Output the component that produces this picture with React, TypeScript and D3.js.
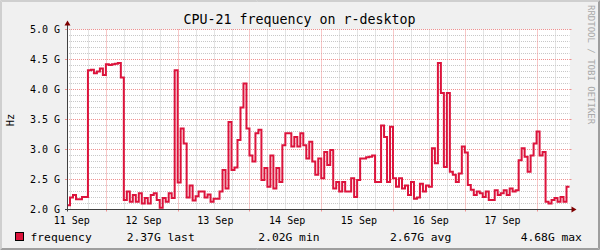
import React from "react";
import * as d3 from "d3";

const title = "CPU-21 frequency on r-desktop";
const yLabel = "Hz";
const watermark = "RRDTOOL / TOBI OETIKER";
// hourly frequency values (GHz), 11 Sep .. 17 Sep
const freq: number[] = [
  2.07, 2.2, 2.24, 2.17, 2.17, 2.21, 2.21, 4.32, 4.33, 4.27, 4.3, 4.35, 4.24, 4.42, 4.41, 4.42, 4.43, 4.44, 4.2, 2.16,
  2.3, 2.13, 2.24, 2.13, 2.27, 2.1, 2.19, 2.1, 2.24, 2.27, 2.16, 2.03, 2.19, 2.13, 2.27, 2.19, 4.32, 2.45, 3.35, 3.1,
  2.2, 2.4, 2.15, 2.22, 2.3, 2.3, 2.2, 2.25, 2.13, 2.18, 2.18, 2.3, 2.66, 2.35, 3.46, 2.66, 2.7, 3.16, 3.7, 4.1,
  3.35, 2.9, 2.8, 3.27, 3.33, 2.49, 2.69, 2.38, 2.9, 2.35, 2.69, 2.46, 3.07, 3.27, 3.27, 3.05, 3.21, 3.05, 3.27, 3.07,
  2.85, 3.13, 2.8, 2.58, 2.85, 2.52, 2.96, 2.74, 2.99, 2.35, 2.46, 2.3, 2.46, 2.3, 2.3, 2.52, 2.21, 2.49, 2.85, 2.85,
  2.87, 2.88, 2.9, 2.46, 2.46, 3.4, 3.21, 2.46, 3.38, 2.52, 2.38, 2.52, 2.35, 2.4, 2.24, 2.46, 2.18, 2.2, 2.43, 2.3,
  2.4, 2.38, 3.02, 2.77, 4.44, 3.94, 2.71, 3.94, 2.63, 2.58, 2.46, 2.6, 3.05, 2.95, 2.41, 2.33, 2.24, 2.3, 2.27, 2.21,
  2.3, 2.16, 2.16, 2.32, 2.24, 2.27, 2.32, 2.24, 2.35, 2.3, 2.32, 2.82, 3.02, 2.88, 2.63, 2.9, 3.1, 3.3, 2.9, 2.96,
  2.13, 2.1, 2.16, 2.19, 2.13, 2.21, 2.13, 2.38,
];
const dayLabels = ["11 Sep", "12 Sep", "13 Sep", "14 Sep", "15 Sep", "16 Sep", "17 Sep"];
const yTicks = [2.0, 2.5, 3.0, 3.5, 4.0, 4.5, 5.0];
const legendName = "frequency";
const legendStats = ["2.37G last", "2.02G min", "2.67G avg", "4.68G max"];

const W = 600, H = 250;
const L = 67, R = 569.5, T = 29.5, B = 209.5;
const FONT = "'DejaVu Sans Mono', monospace";
const LINE = "#DC143C";

export default function App() {
  const x = d3.scaleLinear().domain([0, 168]).range([L, R]);
  const y = d3.scaleLinear().domain([2, 5]).range([B, T]);
  const pts: [number, number][] = freq.map((v, i) => [i, v]);
  pts.push([168, freq[freq.length - 1]]);
  const line = d3
    .line<[number, number]>()
    .x((d) => x(d[0]))
    .y((d) => y(d[1]))
    .curve(d3.curveStepAfter);

  const minorY = d3.range(20, 51).map((v) => v / 10).filter((v) => Math.round(v * 10) % 5 !== 0);
  const minorX = d3.range(1, 168, 6).filter((h) => (h - 13) % 24 !== 0);
  const majorX = d3.range(13, 168, 24);
  const labelX = dayLabels.map((_, i) => 1.6 + 24 * i);
  const cx = (v: number) => Math.round(x(v)) + 0.5;
  const statX = [126.7, 258.3, 390, 520.7];

  return (
    <svg width={W} height={H} style={{ display: "block", position: "absolute", left: 0, top: 0 }}>
      <rect x={0} y={0} width={W} height={H} fill="#F0F0F0" />
      <path d={`M0.5,${H - 0.5}V0.5H${W - 0.5}`} stroke="#CFCFCF" fill="none" />
      <path d={`M1.5,${H - 1.5}V1.5H${W - 1.5}`} stroke="#CFCFCF" fill="none" />
      <path d={`M0.5,${H - 0.5}H${W - 0.5}V0.5`} stroke="#9E9E9E" fill="none" />
      <path d={`M1.5,${H - 1.5}H${W - 1.5}V1.5`} stroke="#9E9E9E" fill="none" />
      <rect x={L} y={T} width={R - L + 0.5} height={B - T} fill="#FFFFFF" />
      {minorY.map((v) => (
        <line key={"my" + v} x1={L} x2={R} y1={y(v)} y2={y(v)} stroke="#C8C8C8" strokeDasharray="1,1" />
      ))}
      {minorX.map((h) => (
        <line key={"mx" + h} x1={cx(h)} x2={cx(h)} y1={T} y2={B} stroke="#C8C8C8" strokeDasharray="1,1" />
      ))}
      {yTicks.map((v) => (
        <g key={"My" + v}>
          <line x1={L} x2={R} y1={y(v)} y2={y(v)} stroke="#F09090" strokeDasharray="1,1" />
          <line x1={L - 2} x2={L} y1={y(v)} y2={y(v)} stroke="#F09090" />
          <line x1={R} x2={R + 2} y1={y(v)} y2={y(v)} stroke="#F09090" />
        </g>
      ))}
      {majorX.map((h) => (
        <g key={"Mx" + h}>
          <line x1={cx(h)} x2={cx(h)} y1={T} y2={B} stroke="#F09090" strokeDasharray="1,1" />
          <line x1={cx(h)} x2={cx(h)} y1={B} y2={B + 2} stroke="#F09090" />
        </g>
      ))}
      <path d={line(pts) || ""} fill="none" stroke={LINE} strokeWidth={2} />
      {/* axes */}
      <line x1={L + 0.5} x2={L + 0.5} y1={B + 2} y2={T - 5} stroke="#404040" />
      <line x1={L - 2} x2={R + 4} y1={B} y2={B} stroke="#404040" />
      <path d={`M${L - 2.5},${T - 4} L${L + 3.5},${T - 4} L${L + 0.5},${T - 9} Z`} fill="#7F0000" />
      <path d={`M${R + 2},${B - 3} L${R + 2},${B + 3} L${R + 7},${B} Z`} fill="#7F0000" />
      {/* tick labels */}
      {yTicks.map((v) => (
        <text key={"yl" + v} x={60} y={y(v) + 3.5} textAnchor="end" fontFamily={FONT} fontSize={10} fill="#000">
          {v.toFixed(1) + " G"}
        </text>
      ))}
      {dayLabels.map((d, i) => (
        <text key={d} x={x(labelX[i])} y={223.5} textAnchor="middle" fontFamily={FONT} fontSize={10} fill="#000">
          {d}
        </text>
      ))}
      <text x={299.5} y={24} textAnchor="middle" fontFamily={FONT} fontSize={13.3} fill="#000">
        {title}
      </text>
      <text transform="translate(14,120) rotate(-90)" textAnchor="middle" fontFamily={FONT} fontSize={10.5} fill="#000">
        {yLabel}
      </text>
      <text transform="translate(587.5,5) rotate(90)" textAnchor="start" fontFamily={FONT} fontSize={9} fill="#A8A8A8">
        {watermark}
      </text>
      {/* legend */}
      <rect x={15.5} y={232.5} width={8} height={8} fill={LINE} stroke="#000" />
      <text x={30.5} y={240.5} fontFamily={FONT} fontSize={11.3} fill="#000">
        {legendName}
      </text>
      {legendStats.map((s, i) => (
        <text key={s} x={statX[i]} y={240.5} fontFamily={FONT} fontSize={11.3} fill="#000">
          {s}
        </text>
      ))}
    </svg>
  );
}
